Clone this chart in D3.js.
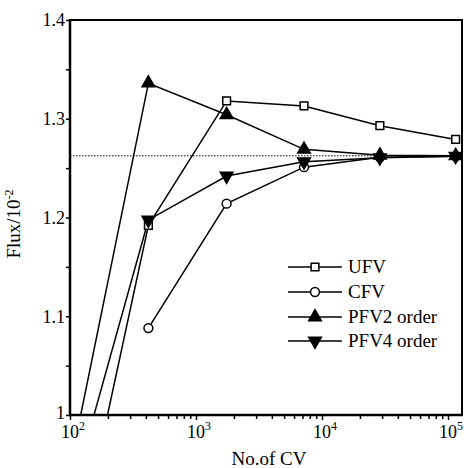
<!DOCTYPE html>
<html>
<head>
<meta charset="utf-8">
<script src="https://cdn.jsdelivr.net/npm/d3@7"></script>
<style>
  body { margin: 0; background: #fff; }
  text { font-family: "Liberation Serif", "Times New Roman", serif; fill: #000; }
</style>
</head>
<body>
<svg id="chart" width="464" height="468"></svg>
<script>
// Number of control volumes and computed flux (x 10^-2) for each scheme
const cvCounts = [100, 419, 1750, 7200, 28800, 115000];
const ufvFlux  = [0.824, 1.192, 1.318, 1.313, 1.293, 1.279];
const cfvFlux  = [null, 1.088, 1.214, 1.251, 1.261, 1.262];
const pfv2Flux = [0.947, 1.336, 1.304, 1.269, 1.263, 1.2625];
const pfv4Flux = [0.913, 1.1975, 1.242, 1.2565, 1.2605, 1.262];
const referenceFlux = 1.2625;

const seriesNames = ["UFV", "CFV", "PFV2 order", "PFV4 order"];
const yTickValues = [1.0, 1.1, 1.2, 1.3, 1.4];
const yMinorValues = [1.05, 1.15, 1.25, 1.35];
const xTickExponents = [2, 3, 4, 5];

const svg = d3.select("#chart");
const plot = { left: 70, right: 462, top: 20, bottom: 415 };

const x = d3.scaleLog().domain([1e2, 1e5]).range([plot.left, 448]);
const y = d3.scaleLinear().domain([1.0, 1.4]).range([plot.bottom, plot.top]);

// clip series to the plotting box
svg.append("defs").append("clipPath").attr("id", "plotClip")
  .append("rect")
  .attr("x", plot.left).attr("y", plot.top)
  .attr("width", plot.right - plot.left).attr("height", plot.bottom - plot.top);

// reference value (dotted)
svg.append("line")
  .attr("x1", plot.left).attr("x2", plot.right)
  .attr("y1", y(referenceFlux)).attr("y2", y(referenceFlux))
  .attr("stroke", "#000").attr("stroke-width", 1)
  .attr("stroke-dasharray", "1.5,1.5");

// frame: top and right edges
svg.append("path")
  .attr("d", `M${plot.left},${plot.top}H${plot.right}V${plot.bottom}`)
  .attr("fill", "none").attr("stroke", "#000").attr("stroke-width", 2);

// y axis
const yAxis = svg.append("g").attr("transform", `translate(${plot.left},0)`)
  .call(d3.axisLeft(y).tickValues(yTickValues).tickSize(4).tickPadding(1)
    .tickFormat(d => d === 1 ? "1" : d3.format(".1f")(d)));
yAxis.select(".domain").attr("stroke-width", 2.5)
  .attr("d", `M0,${plot.bottom + 1}V${plot.top - 1}`);
yAxis.selectAll(".tick line").attr("stroke-width", 1.5);
yAxis.selectAll(".tick text").style("font-size", "18px")
  .style("font-family", '"Liberation Serif", "Times New Roman", serif');
yAxis.selectAll(".tick").filter(d => d === 1).select("text").attr("dy", "0.2em");

svg.append("g").attr("transform", `translate(${plot.left},0)`)
  .call(d3.axisLeft(y).tickValues(yMinorValues).tickSize(4).tickFormat(""))
  .call(g => g.select(".domain").remove())
  .selectAll(".tick line").attr("stroke-width", 1.5);

// x axis
const xMinorValues = [];
for (let e = 2; e < 5; e++) for (let m = 2; m <= 9; m++) xMinorValues.push(m * Math.pow(10, e));

const xAxis = svg.append("g").attr("transform", `translate(0,${plot.bottom})`)
  .call(d3.axisBottom(x).tickValues(xTickExponents.map(e => Math.pow(10, e))).tickSize(5).tickFormat(""));
xAxis.select(".domain").attr("stroke-width", 2.5)
  .attr("d", `M${plot.left - 1},0H${plot.right + 1}`);
xAxis.selectAll(".tick line").attr("stroke-width", 1.5);

svg.append("g").attr("transform", `translate(0,${plot.bottom})`)
  .call(d3.axisBottom(x).tickValues(xMinorValues).tickSize(4).tickFormat(""))
  .call(g => g.select(".domain").remove())
  .selectAll(".tick line").attr("stroke-width", 1.5);

// power-of-ten labels
const xLabels = svg.append("g");
xTickExponents.forEach(e => {
  const px = x(Math.pow(10, e));
  xLabels.append("text").attr("x", px).attr("y", 438)
    .attr("text-anchor", "middle").style("font-size", "18px").text("10");
  xLabels.append("text").attr("x", px + 9).attr("y", 430)
    .style("font-size", "12px").text(e);
});

// axis titles
svg.append("text").attr("x", 269).attr("y", 465)
  .attr("text-anchor", "middle").style("font-size", "19px").text("No.of CV");

const yTitle = svg.append("text")
  .attr("transform", "translate(20,224) rotate(-90)")
  .attr("text-anchor", "middle").style("font-size", "19px");
yTitle.append("tspan").text("Flux/10");
yTitle.append("tspan").attr("dy", -7).style("font-size", "12px").text("-2");

// series
const series = [
  { name: seriesNames[0], values: ufvFlux,  symbol: d3.symbolSquare,   size: 60, fill: "#fff", rotate: 0 },
  { name: seriesNames[1], values: cfvFlux,  symbol: d3.symbolCircle,   size: 62, fill: "#fff", rotate: 0 },
  { name: seriesNames[2], values: pfv2Flux, symbol: d3.symbolTriangle, size: 70, fill: "#000", rotate: 0 },
  { name: seriesNames[3], values: pfv4Flux, symbol: d3.symbolTriangle, size: 70, fill: "#000", rotate: 180 }
];

const line = d3.line()
  .defined(d => d.v !== null)
  .x(d => x(d.n)).y(d => y(d.v));

const seriesG = svg.append("g").attr("clip-path", "url(#plotClip)");
series.forEach(s => {
  const pts = cvCounts.map((n, i) => ({ n, v: s.values[i] }));
  seriesG.append("path").datum(pts)
    .attr("d", line).attr("fill", "none")
    .attr("stroke", "#000").attr("stroke-width", 1.5);
});
series.forEach(s => {
  const pts = cvCounts.map((n, i) => ({ n, v: s.values[i] }))
    .filter(d => d.v !== null && d.v >= 1.0);
  seriesG.selectAll(null).data(pts).enter().append("path")
    .attr("d", d3.symbol().type(s.symbol).size(s.size))
    .attr("transform", d => `translate(${x(d.n)},${y(d.v)}) rotate(${s.rotate})`)
    .attr("fill", s.fill).attr("stroke", "#000").attr("stroke-width", 1.5);
});

// legend
const legend = svg.append("g");
const legendRows = [267, 292, 317, 341];
series.forEach((s, i) => {
  const cy = legendRows[i];
  legend.append("line").attr("x1", 288).attr("x2", 342).attr("y1", cy).attr("y2", cy)
    .attr("stroke", "#000").attr("stroke-width", 1.5);
  legend.append("path")
    .attr("d", d3.symbol().type(s.symbol).size(s.size))
    .attr("transform", `translate(315,${cy}) rotate(${s.rotate})`)
    .attr("fill", s.fill).attr("stroke", "#000").attr("stroke-width", 1.5);
  legend.append("text").attr("x", 348).attr("y", cy + 6)
    .style("font-size", "19px").text(s.name);
});
</script>
</body>
</html>
